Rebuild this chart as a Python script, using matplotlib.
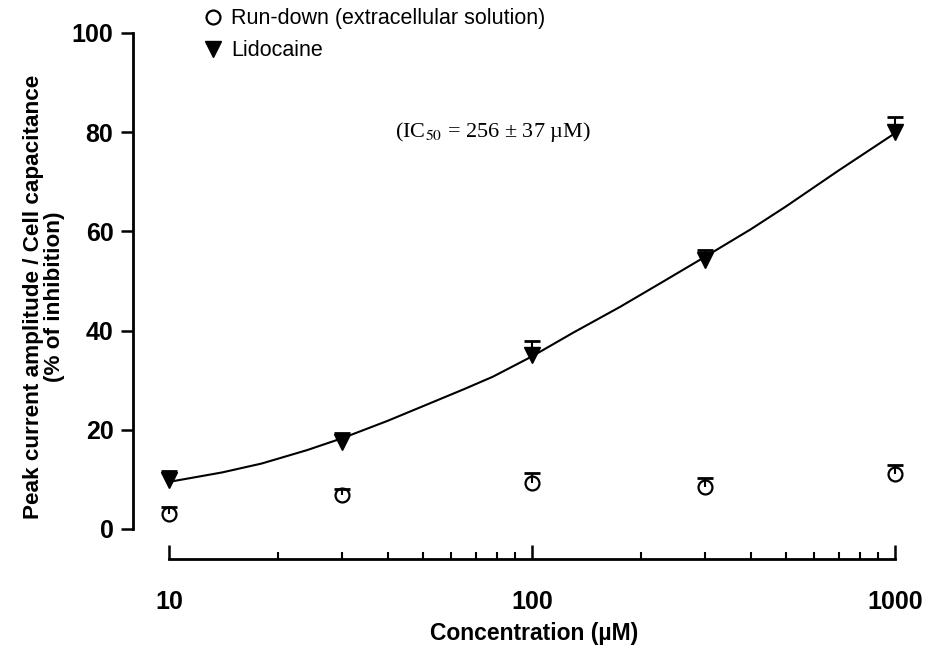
import numpy as np
import matplotlib
matplotlib.use("Agg")
import matplotlib.pyplot as plt
from matplotlib.lines import Line2D
from matplotlib.ticker import LogLocator, FixedLocator, NullFormatter

plt.rcParams['font.family'] = ['Liberation Sans', 'DejaVu Sans']
plt.rcParams['mathtext.fontset'] = 'stix'

# Data
conc = [10, 30, 100, 300, 1000]
lido_mean = [9.9, 17.5, 35.1, 54.2, 80.0]
lido_err = [1.8, 1.8, 2.8, 2.1, 3.1]
rundown_mean = [3.0, 6.9, 9.3, 8.5, 11.1]
rundown_err = [1.4, 1.2, 2.0, 1.8, 1.8]

# fitted curve
fit_x = [10, 14, 18, 24, 30, 40, 51, 65, 78, 100, 130, 175, 230, 300, 400, 500, 700, 1000]
fit_y = [9.5, 11.4, 13.2, 15.9, 18.3, 21.8, 25.0, 28.2, 30.7, 34.8, 39.6, 44.8, 49.9, 54.9,
         60.4, 65.0, 72.3, 79.8]

fig = plt.figure(figsize=(9.25, 6.49), dpi=100)
ax = fig.add_axes([0.1827, 0.1849, 0.7849, 0.7643])

ax.plot(fit_x, fit_y, color='black', lw=1.5, clip_on=False, zorder=2)

# upper error bars only
lido_top = np.array(lido_mean) + np.array(lido_err)
rd_top = np.array(rundown_mean) + np.array(rundown_err)
ax.vlines(conc, lido_mean, lido_top, color='black', lw=1.5, clip_on=False, zorder=3)
ax.vlines(conc, rundown_mean, rd_top, color='black', lw=1.5, clip_on=False, zorder=3)
ax.plot(conc, lido_top, '_', color='black', ms=11.5, mew=2, clip_on=False, zorder=3)
ax.plot(conc, rd_top, '_', color='black', ms=11.5, mew=2, clip_on=False, zorder=3)

ax.plot(conc, lido_mean, 'v', color='black', ms=11.5, clip_on=False, zorder=4)
ax.plot(conc, rundown_mean, 'o', mfc='none', mec='black', mew=1.6, ms=10,
        clip_on=False, zorder=4)

ax.set_xscale('log')
ax.set_xlim(10, 1000)
ax.set_ylim(0, 100)

for s in ['top', 'right']:
    ax.spines[s].set_visible(False)
ax.spines['left'].set_position(('outward', 26))
ax.spines['bottom'].set_position(('outward', 21.6))
ax.spines['left'].set_linewidth(2)
ax.spines['bottom'].set_linewidth(2)

ax.set_yticks([0, 20, 40, 60, 80, 100])
ax.xaxis.set_major_locator(FixedLocator([10, 100, 1000]))
ax.xaxis.set_minor_locator(LogLocator(base=10, subs=np.arange(2, 10)))
ax.xaxis.set_minor_formatter(NullFormatter())
ax.set_xticklabels(['10', '100', '1000'])

ax.tick_params(axis='y', direction='out', length=9, width=1.8, pad=5,
               labelsize=18)
ax.tick_params(axis='x', which='major', direction='in', length=10, width=1.8,
               pad=22, labelsize=18)
ax.tick_params(axis='x', which='minor', direction='in', length=5, width=1.5)
for lab in ax.get_xticklabels() + ax.get_yticklabels():
    lab.set_fontweight('bold')

ax.set_ylabel('Peak current amplitude / Cell capacitance\n(% of inhibition)',
              fontsize=16.2, fontweight='bold', linespacing=1.0)
ax.yaxis.set_label_coords(-0.143, 0.468)
ax.set_xlabel('Concentration (µM)', fontsize=16.5, fontweight='bold')
ax.xaxis.set_label_coords(0.503, -0.1875)

ax.text(0.446, 0.80, r'(IC$_{50}$ = 256 ± 37 µM)', transform=ax.transAxes,
        ha='center', va='center', fontsize=16, family='Liberation Serif')

handles = [Line2D([], [], ls='none', marker='o', mfc='none', mec='black', mew=1.6, ms=10),
           Line2D([], [], ls='none', marker='v', color='black', ms=11)]
fig.legend(handles, ['Run-down (extracellular solution)', 'Lidocaine'],
           loc='upper left', bbox_to_anchor=(0.2195, 0.987), frameon=False,
           fontsize=15.5, handlelength=0.9, handletextpad=0.4, labelspacing=0.5,
           borderpad=0, borderaxespad=0)

fig.savefig('out.png', dpi=100)
